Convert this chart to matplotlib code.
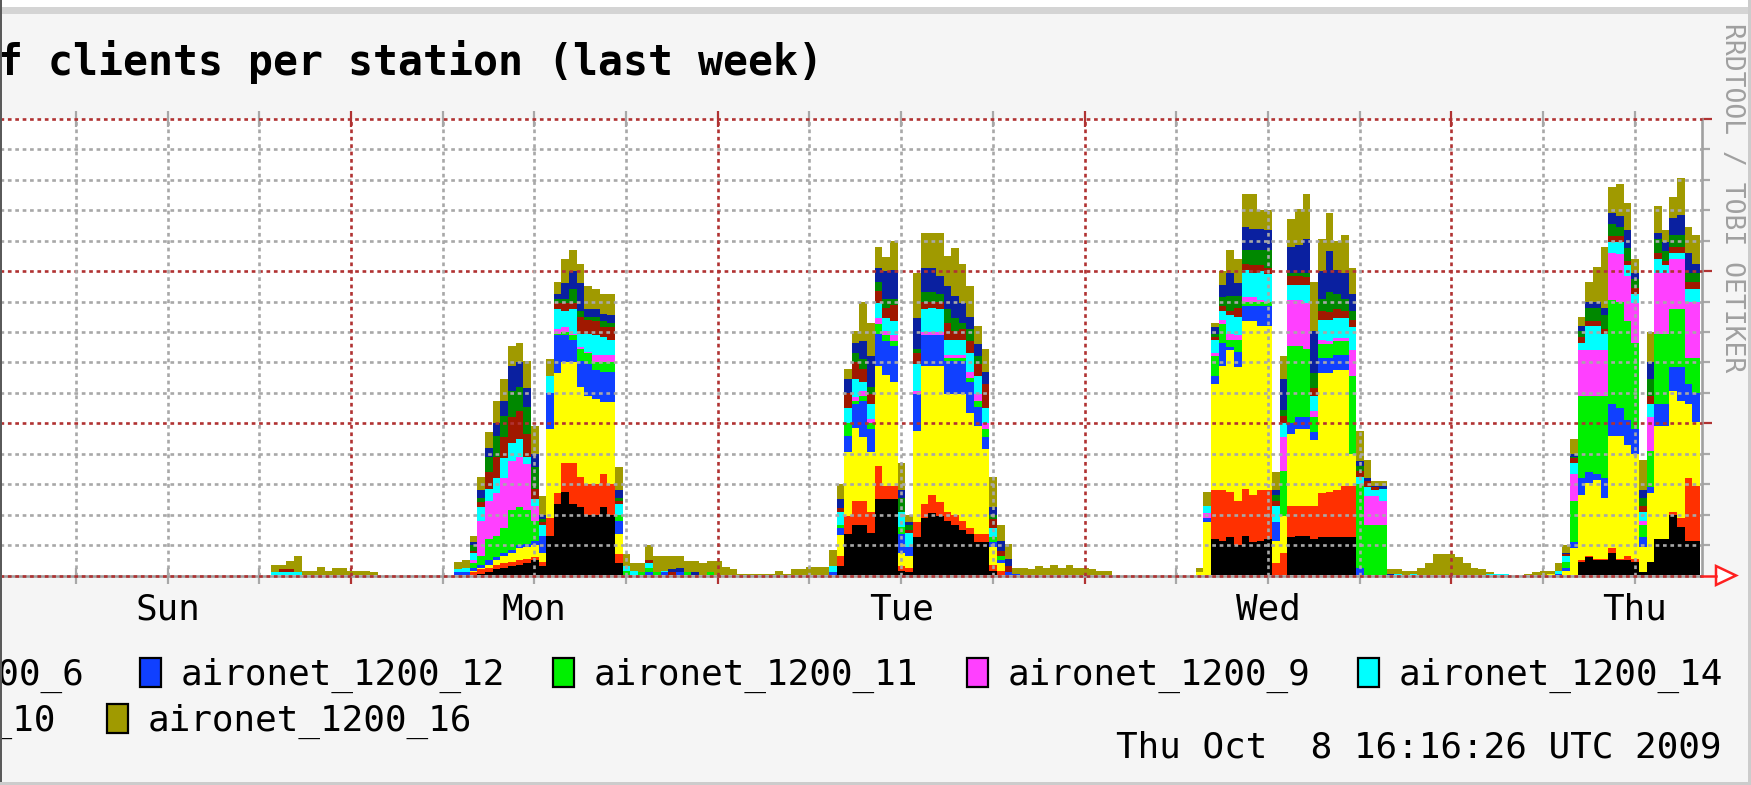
import numpy as np
import matplotlib
matplotlib.use("Agg")
import matplotlib.pyplot as plt
from matplotlib.patches import Rectangle, Polygon
from matplotlib.transforms import blended_transform_factory

W, H = 1751, 785

# half hour steps, first step starts Sun 18:16 (hours counted from Sun 00:00)
first_slot = 18.27
slot = 0.5

# clients per station, one list per station, bottom of the stack first
black = [
    0,0,0,0,0,0,0,0,0,0,0,0,0,0,0,
    0,0,0,0,0,0,0,0,0,0,
    0,0,0,.1,.2,.4,.5,.6,.7,.8,1.0,.6,2.6,4.7,5.5,4.7,4.5,4.0,4.0,4.5,4.0,.8,0,
    0,0,0,0,0,0,0,0,0,0, 0,0,0,0,0,0,0,0,0,0, 0,0,0,0,0,0,
    0,.6,2.7,3.3,3.3,2.8,5.0,5.0,5.0,.3,.2,2.5,3.8,4.1,3.9,3.6,3.3,3.0,2.7,2.2,2.2,.3,0,0,0,
    0,0,0,0,0,0,0,0,0,0, 0,0,0,0,0,0,0,0,0,0, 0,0,0,
    0,0,2.4,2.3,2.5,2.0,2.6,2.2,2.3,2.4,0,0,2.5,2.6,2.6,2.4,2.5,2.5,2.5,2.5,2.5,0,0,0,0,
    0,0,0,0,0,0,0,0,0,0, 0,0,0,0,0,0,0,0,0,0, 0,0,
    0,0,0,.9,1.2,1.0,1.0,1.5,1.0,1.0,.9,.2,.9,2.4,2.4,4.0,3.2,2.3,2.3,
]
red = [
    0,0,0,0,0,0,0,0,0,0,0,0,0,0,0,
    0,0,0,0,0,0,0,0,0,0,
    0,0,.2,.3,.3,.3,.3,.3,.3,.3,.2,.3,1.2,.7,1.9,2.7,2.0,2.0,2.0,2.2,2.0,.6,0,
    0,0,0,0,0,0,0,0,0,0, 0,0,0,0,0,0,0,0,0,0, 0,0,0,0,0,0,
    0,.65,1.2,1.6,1.6,1.4,2.2,.9,.9,.3,.3,1.0,.9,1.2,.9,.6,.7,.6,.4,.5,.5,.4,.3,0,0,
    0,0,0,0,0,0,0,0,0,0, 0,0,0,0,0,0,0,0,0,0, 0,0,0,
    0,0,3.2,3.3,3.0,2.9,3.1,3.1,3.3,3.2,.8,1.5,2.1,2.0,2.0,2.2,2.9,3.0,3.1,3.4,3.4,0,0,0,0,
    0,0,0,0,0,0,0,0,0,0, 0,0,0,0,0,0,0,0,0,0, 0,0,
    0,0,0,.1,.1,.1,.1,.3,.1,.3,.2,0,0,0,0,.2,.6,4.1,3.6,
]
ap_6 = [
    0,0,0,0,0,0,0,0,0,0,0,0,0,0,0,
    0,0,0,0,0,0,0,0,0,0,
    0,0,.1,.1,.2,.3,.5,.6,.8,.8,.8,.6,5.8,7.9,6.6,6.6,5.9,5.8,5.6,4.7,5.4,1.3,0,
    0,0,0,0,0,0,0,0,0,0, 0,0,0,0,0,0,0,0,0,0, 0,0,0,0,0,0,
    0,1.4,4.2,4.8,4.2,3.9,6.6,7.3,6.8,.9,.8,6.0,9.1,8.5,9.0,7.7,7.9,8.3,7.6,7.1,5.6,1.2,.5,0,0,
    0,0,0,0,0,0,0,0,0,0, 0,0,0,0,0,0,0,0,0,0, 0,0,0,
    .2,3.5,7.0,8.2,9.3,8.8,11.0,11.4,10.8,10.8,1.5,2.4,4.7,5.0,5.0,4.3,7.9,7.8,7.9,7.6,2.1,0,0,0,0,
    0,0,0,0,0,0,0,0,0,0, 0,0,0,0,0,0,0,0,0,0, 0,.1,
    0,.3,1.8,4.3,4.8,5.2,4.0,7.4,8.1,7.3,6.9,1.7,4.5,7.4,7.4,7.9,7.7,4.9,4.2,
]
ap_12 = [
    0,0,0,0,0,0,0,0,0,0,0,0,0,0,0,
    0,0,0,0,0,0,0,0,0,0,
    .2,.2,.2,.2,.3,.2,.2,.2,.2,.2,.3,1.1,2.4,2.5,1.8,1.5,1.7,2.1,1.9,2.0,2.0,.9,0,
    0,0,.2,0,.2,0,.2,0,0,0, 0,0,0,0,0,0,0,0,0,0, 0,0,0,0,0,0,
    .2,.45,1.1,1.6,2.4,1.5,2.1,2.2,2.4,1.2,.6,2.4,2.0,2.0,2.0,2.2,2.2,2.2,2.0,1.3,.8,.3,.2,.2,.1,
    0,0,0,0,0,0,0,0,0,0, 0,0,0,0,0,0,0,0,0,0, 0,0,0,
    0,.3,.5,1.5,.2,1.0,1.0,1.0,1.3,1.3,1.2,0,.7,.8,.8,.5,1.0,1.0,1.0,1.0,0,.5,0,0,0,
    0,0,0,0,0,0,0,0,0,0, 0,0,0,0,0,0,0,0,0,0, 0,0,
    .1,.2,.4,1.1,.7,.4,1.3,2.1,1.8,1.6,1.6,.6,.4,1.5,1.5,1.6,2.2,1.3,1.9,
]
ap_11 = [
    0,0,0,0,0,0,0,0,0,0,0,0,0,0,0,
    0,0,0,0,0,0,0,0,0,0,
    0,0,.3,.6,1.4,1.4,1.6,2.6,2.5,2.2,1.3,0,0,.1,.2,.3,.8,.7,.5,.6,.6,.4,.3,
    0,.2,.3,.2,0,0,0,.2,0,0, .2,0,0,0,0,0,0,0,0,0, 0,0,0,0,0,0,
    0,.2,.8,.2,.3,.4,.6,.4,.3,.5,0,0,0,0,0,.2,.2,.2,.3,.4,.5,.3,.3,0,0,
    0,0,0,0,0,0,0,0,0,0, 0,0,0,0,0,0,0,0,0,0, 0,0,0,
    0,0,1.3,1.2,.5,.8,.3,.3,.3,.3,0,3.0,5.1,4.7,4.5,1.0,.9,.9,.9,.9,5.1,5.5,3.3,3.3,3.3,
    0,0,0,0,0,0,0,0,0,0, 0,0,0,0,0,0,0,0,0,0, 0,0,
    0,.4,2.7,5.4,5.0,5.1,5.4,6.8,7.0,6.5,5.7,.8,2.4,4.6,4.6,3.8,3.8,1.7,2.3,
]
ap_9 = [
    0,0,0,0,0,0,0,0,0,0,0,0,0,0,0,
    0,0,0,0,0,0,0,0,0,0,
    0,0,.2,2.3,2.5,2.8,3.3,3.2,3.3,3.0,1.0,0,0,.3,.3,.1,.1,.1,.5,.5,.5,0,0,
    0,0,0,0,0,0,0,0,0,0, 0,0,0,0,0,0,0,0,0,0, 0,0,0,0,0,0,
    0,0,0,.2,.3,.3,.4,.3,.4,0,0,.2,.2,.2,.2,.2,.2,.2,.4,.4,.4,0,0,0,0,
    0,0,0,0,0,0,0,0,0,0, 0,0,0,0,0,0,0,0,0,0, 0,0,0,
    0,.3,.2,.3,.4,.3,.3,.3,.1,0,0,2.2,3.0,3.0,3.0,.4,.3,.2,.2,.2,1.7,0,1.9,1.9,1.6,
    0,0,0,0,0,0,0,0,0,0, 0,0,0,0,0,0,0,0,0,0, 0,0,
    0,0,1.8,3.0,3.0,3.0,3.0,3.1,3.1,3.0,2.6,.3,2.2,4.0,4.0,3.3,3.3,3.7,3.7,
]
ap_14 = [
    0,.2,.2,.2,.2,0,0,0,0,0,0,0,0,0,0,
    0,0,0,0,0,0,0,0,0,0,
    .2,.3,.5,.9,.8,1.0,1.3,1.2,1.2,.5,.4,.7,1.1,1.3,1.1,1.6,.9,1.2,1.3,1.2,1.0,.7,.3,
    .3,0,.3,0,.1,0,0,0,0,0, 0,0,0,0,0,0,0,0,0,0, 0,0,0,0,0,0,
    .4,.9,1.0,1.2,.6,1.0,1.0,.8,.9,1.0,.9,1.8,1.5,1.6,1.5,1.0,1.0,1.0,1.2,1.2,1.0,.6,0,0,0,
    0,0,0,0,0,0,0,0,0,0, 0,0,0,0,0,0,0,0,0,0, 0,0,0,
    0,.5,.9,.6,1.2,1.2,1.8,1.6,1.9,1.8,1.1,.9,1.0,1.0,1.2,1.0,1.3,1.4,1.3,1.3,1.5,.5,.6,.4,.8,
    0,.1,0,.1,0,0,0,0,0,0, 0,0,0,.1,.1,.1,0,0,0,0, 0,0,
    .2,.4,.7,.5,1.6,1.6,1.1,.7,.8,.7,.6,.6,.9,.9,.5,.4,.4,.8,.8,
]
darkred = [
    0,0,.2,.2,0,0,0,0,0,0,0,0,0,0,0,
    0,0,0,0,0,0,0,0,0,0,
    0,0,.1,.3,1.1,1.4,1.4,1.7,1.8,1.5,.7,.2,0,.4,.5,.4,1.1,.9,.9,.6,.8,.2,0,
    0,0,.2,0,0,.2,0,0,0,0, 0,0,0,0,0,0,0,0,0,0, 0,0,0,0,0,0,
    0,.25,1.0,1.1,.9,.6,.8,.7,1.1,0,.2,.7,.5,.4,.5,1.1,.6,.7,.8,.8,1.6,.6,.3,.4,0,
    0,0,0,0,0,0,0,0,0,0, 0,0,0,0,0,0,0,0,0,0, 0,0,0,
    0,0,.2,.3,.3,.6,.4,.5,.4,.4,.3,.5,.6,.6,.5,.5,.6,.5,.6,.5,.5,.4,.4,.2,0,
    0,0,0,0,0,0,0,0,0,0, 0,0,0,0,0,0,0,0,0,0, 0,0,
    0,.1,.3,.4,.3,.3,.3,.4,.4,.3,.4,.4,.5,.4,.3,.4,.4,.5,.5,
]
darkgreen = [
    0,0,0,0,0,0,0,0,0,0,0,0,0,0,0,
    0,0,0,0,0,0,0,0,0,0,
    0,0,.4,.3,1.0,1.4,1.4,1.7,1.6,1.8,1.4,.2,0,.3,.3,.9,.4,.2,.3,.4,.3,.2,0,
    0,0,0,0,0,0,0,0,0,0, 0,0,0,0,0,0,0,0,0,0, 0,0,0,0,0,0,
    0,0,0,.6,.6,.5,.6,.6,.4,.9,.3,.3,.6,.6,.5,.9,.8,.4,.8,.5,0,.3,0,0,0,
    0,0,0,0,0,0,0,0,0,0, 0,0,0,0,0,0,0,0,0,0, 0,0,0,
    0,0,.2,.6,1.0,.8,.9,1.0,1.0,1.2,.4,.4,.2,.2,.3,1.0,.8,1.3,1.0,.8,.6,.3,0,0,0,
    0,0,0,0,0,0,0,0,0,0, 0,0,0,0,0,0,0,0,0,0, 0,0,
    0,0,.1,.4,.9,.9,.9,.8,.6,.8,.6,.5,1.1,.9,.6,.8,.8,.6,.6,
]
ap_10 = [
    0,0,0,0,0,0,0,0,0,0,0,0,0,0,0,
    0,0,0,0,0,0,0,0,0,0,
    0,0,.2,.5,.6,.8,1.0,1.7,1.6,1.2,.9,.3,0,.3,1.0,1.2,1.8,.5,.5,.5,.5,.5,0,
    0,0,0,0,0,.2,.3,0,.2,0, 0,0,0,0,0,0,0,0,0,0, 0,0,0,0,0,0,
    0,.55,.9,.7,1.2,2.0,.9,1.8,1.9,.5,.2,2.0,1.6,1.6,1.2,1.5,1.5,1.3,.8,.8,.8,.5,.7,.5,0,
    0,0,0,0,0,0,0,0,0,0, 0,0,0,0,0,0,0,0,0,0, 0,0,0,
    0,0,.4,.8,1.5,.8,1.5,1.4,1.4,1.3,.3,2.0,1.7,1.8,2.2,2.8,1.8,2.7,1.6,1.7,1.1,.3,.2,.1,.2,
    .1,0,0,0,0,0,0,0,0,0, 0,0,0,0,0,0,0,0,0,0, 0,0,
    0,.1,.2,.3,.4,.4,.5,.7,.7,1.2,.4,.5,1.1,.4,.6,1.1,1.3,1.3,.6,
]
ap_16 = [
    0,.5,.3,.55,1.05,.3,.3,.55,.3,.5,.5,.3,.3,.3,.2,
    0,0,0,0,0,0,0,0,0,0,
    .5,.5,.4,.9,1.0,1.5,1.4,1.3,1.3,1.8,1.8,1.2,1.1,.8,1.6,1.4,1.3,1.5,1.3,1.3,1.4,1.5,.8,
    .5,.6,1.0,1.05,.95,.85,.75,.75,.75,.8,.75,.95,.55,.4,.1,.1,.1,.1,.1,.3,.1,.4,.4,.55,.55,.55,
    1.1,1.0,.7,.8,2.6,2.2,1.4,.9,1.9,1.8,.5,3.0,2.3,2.3,2.8,2.0,3.1,2.6,2.0,1.2,1.5,2.0,1.0,1.0,.4,
    .5,.4,.6,.5,.7,.5,.7,.5,.5,.4,.3,.3,0,0,0,0,0,0,0,0,0,0,0,
    .3,.9,.3,.9,1.5,1.6,2.2,2.3,1.2,1.3,1.2,1.5,1.8,2.4,3.0,3.2,2.1,2.5,1.9,2.5,1.7,2.0,1.2,.3,.3,
    .3,.3,.3,.2,.5,.8,1.4,1.4,1.4,1.2,.8,.5,.4,.1,0,0,0,0,.1,.2,.3,.2,
    .5,.5,1.0,.6,1.3,2.3,4.0,1.7,2.1,1.8,.9,2.0,2.0,1.8,.8,1.4,2.4,1.7,1.9,
]

stack = [black, red, ap_6, ap_12, ap_11, ap_9, ap_14, darkred, darkgreen, ap_10, ap_16]
colors = ['#000000', '#ff3000', '#ffff00', '#1040ff', '#00f000', '#ff40ff',
          '#00ffff', '#a01800', '#008800', '#0a20a0', '#a09a00']

days = ['Sun', 'Mon', 'Tue', 'Wed', 'Thu']
day_noon = [12, 36, 60, 84, 108]

legend_top = ['aironet_1200_6', 'aironet_1200_12', 'aironet_1200_11', 'aironet_1200_9', 'aironet_1200_14']
legend_top_colors = ['#ffff00', '#1040ff', '#00f000', '#ff40ff', '#00ffff']
legend_bottom = ['aironet_1200_10', 'aironet_1200_16']
legend_bottom_colors = ['#0a20a0', '#a09a00']

for s in stack:
    assert len(s) == len(black), len(s)

plt.rcParams['font.family'] = ['DejaVu Sans Mono']

def fx(px):
    return px / W

def fy(py):
    return 1 - py / H

fig = plt.figure(figsize=(W / 100, H / 100), dpi=100)
fig.patch.set_facecolor('#f5f5f5')

top_px, bot_px, right_px = 119, 575.5, 1702
ax = fig.add_axes([0, fy(bot_px), fx(right_px), (bot_px - top_px) / H])
ax.set_facecolor('white')

n = len(black)
t = first_slot + slot * np.arange(n + 1)
base = np.zeros(n + 1)
for vals, c in zip(stack, colors):
    v = np.append(vals, vals[-1])
    ax.fill_between(t, base, base + v, step='post', color=c, lw=0,
                    antialiased=False, zorder=2)
    base = base + v

ax.set_xlim(1.034, 112.4)
ax.set_ylim(0, 30)

gray = '#a8a8a8'
mred = '#b03232'
dots = (0, (1.4, 1.4))
for y in range(2, 31, 2):
    ax.axhline(y, color=mred if y % 10 == 0 else gray, lw=1.9, ls=dots,
               zorder=3, clip_on=False)
hours = list(range(6, 112, 6))
for h in hours:
    ax.axvline(h, color=mred if h % 24 == 0 else gray, lw=1.9, ls=dots, zorder=3)

for side in ['left', 'top']:
    ax.spines[side].set_visible(False)
for side in ['right', 'bottom']:
    ax.spines[side].set_color('#a0a0a0')
    ax.spines[side].set_linewidth(1.9)
ax.axhline(0, color=mred, lw=1.9, ls=dots, zorder=4, clip_on=False)

# midnight ticks red, six hour ticks gray
ax.set_xticks([h for h in hours if h % 24 == 0])
ax.set_xticks([h for h in hours if h % 24], minor=True)
ax.tick_params(axis='x', which='both', direction='inout', length=11, width=1.6,
               top=True, bottom=True, labelbottom=False)
ax.tick_params(axis='x', which='major', color=mred)
ax.tick_params(axis='x', which='minor', color=gray)

ax.set_yticks([10, 20, 30])
ax.set_yticks([y for y in range(2, 30, 2) if y % 10], minor=True)
ax.tick_params(axis='y', which='both', direction='out', width=1.6,
               left=False, right=True, labelleft=False, labelright=False)
ax.tick_params(axis='y', which='major', color=mred, length=7)
ax.tick_params(axis='y', which='minor', color=gray, length=6)

tr = blended_transform_factory(ax.transData, fig.transFigure)
for h, d in zip(day_noon, days):
    ax.text(h, fy(620), d, transform=tr, ha='center', va='baseline',
            fontsize=25.9, clip_on=False)

fig.text(fx(823), fy(75), 'Number of clients per station (last week)',
         ha='right', va='baseline', fontsize=29.9, fontweight='bold')
fig.text(fx(1732), fy(198), 'RRDTOOL / TOBI OETIKER', rotation=270,
         ha='center', va='center', fontsize=19, color='#a0a0a0')

# legend, the first entries of each row are outside the picture
box_w, box_h = 21, 29
top_starts = [-218, 181, 594, 1008, 1399]
for lab, c, x0 in zip(legend_top, legend_top_colors, top_starts):
    fig.add_artist(Rectangle((fx(x0 - 41), fy(687)), box_w / W, box_h / H,
                             transform=fig.transFigure, facecolor=c,
                             edgecolor='black', lw=1.6))
    fig.text(fx(x0), fy(685), lab, ha='left', va='baseline', fontsize=25.9)
bottom_starts = [-268, 148]
for lab, c, x0 in zip(legend_bottom, legend_bottom_colors, bottom_starts):
    fig.add_artist(Rectangle((fx(x0 - 41), fy(733)), box_w / W, box_h / H,
                             transform=fig.transFigure, facecolor=c,
                             edgecolor='black', lw=1.6))
    fig.text(fx(x0), fy(731), lab, ha='left', va='baseline', fontsize=25.9)

fig.text(fx(1721), fy(757), 'Thu Oct  8 16:16:26 UTC 2009',
         ha='right', va='baseline', fontsize=25.9)

# arrow at the end of the time axis
fig.add_artist(plt.Line2D([fx(right_px), fx(1716)], [fy(bot_px), fy(bot_px)],
                          transform=fig.transFigure, color='#ff2020', lw=1.8))
fig.add_artist(Polygon([(fx(1716), fy(566)), (fx(1736), fy(bot_px)), (fx(1716), fy(585))],
                       closed=True, transform=fig.transFigure,
                       facecolor='white', edgecolor='#ff2020', lw=1.8))

# screenshot frame
fig.add_artist(Rectangle((0, fy(7)), 1, 7 / H, transform=fig.transFigure,
                         facecolor='white', lw=0, zorder=10))
fig.add_artist(Rectangle((0, fy(14)), 1, 7 / H, transform=fig.transFigure,
                         facecolor='#d4d4d4', lw=0, zorder=10))
fig.add_artist(Rectangle((0, 0), 2 / W, 1, transform=fig.transFigure,
                         facecolor='#5a5a5a', lw=0, zorder=10))
fig.add_artist(Rectangle((0, 0), 1, 3 / H, transform=fig.transFigure,
                         facecolor='#cccccc', lw=0, zorder=10))
fig.add_artist(Rectangle((fx(1748), 0), 3 / W, 1, transform=fig.transFigure,
                         facecolor='#cccccc', lw=0, zorder=10))

fig.savefig('out.png', dpi=100, facecolor=fig.get_facecolor())
